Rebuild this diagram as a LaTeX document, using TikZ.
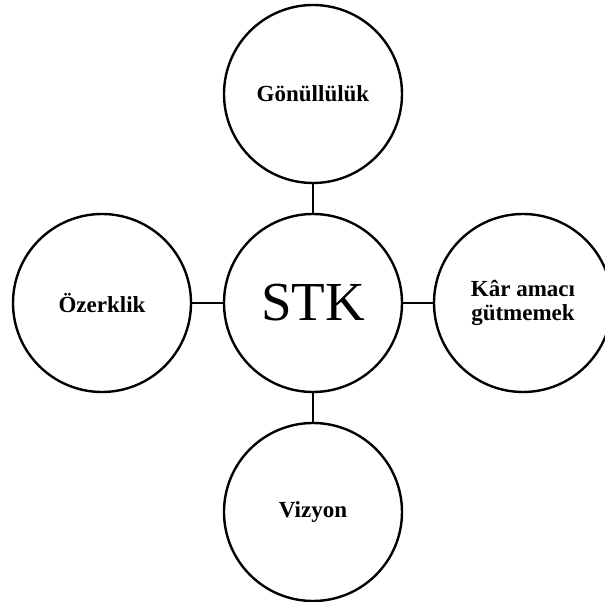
\documentclass[tikz,border=0pt]{standalone}
\usepackage{fontspec}
\setmainfont{Liberation Serif}
\usepackage{tikz}
\usetikzlibrary{positioning}

\begin{document}
\begin{tikzpicture}[
    x=1pt, y=1pt,
    circ/.style={draw=black, circle, line width=2.4pt, minimum size=178pt, inner sep=0pt, align=center},
    itembox/.style={circ, font=\fontsize{23}{24}\selectfont\bfseries},
    corebox/.style={circ, font=\fontsize{55}{60}\selectfont},
    link/.style={draw=black, line width=2.4pt}
]
\useasboundingbox (0,0) rectangle (605,602);

% Centre
\node[corebox] (stk) at (313,299) {STK};

% Around
\node[itembox] (gonul) at (313,508) {Gönüllülük};
\node[itembox] (ozerk) at (102,299) {Özerklik};
\node[itembox] (kar) at (523,299) {Kâr amacı\\gütmemek};
\node[itembox] (vizyon) at (313,90) {Vizyon};

\draw[link] (gonul) -- (stk);
\draw[link] (ozerk) -- (stk);
\draw[link] (stk) -- (kar);
\draw[link] (stk) -- (vizyon);

\end{tikzpicture}
\end{document}
